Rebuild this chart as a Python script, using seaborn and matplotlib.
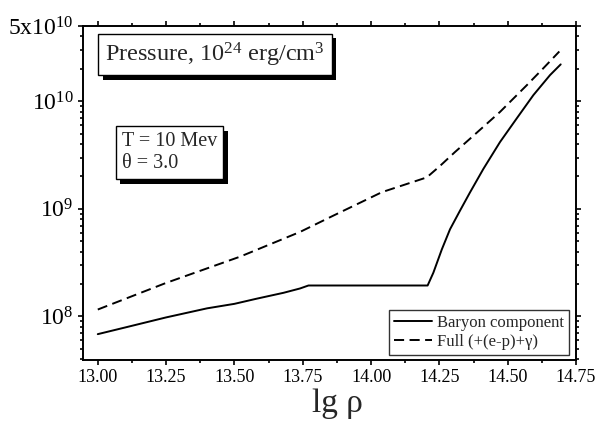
import numpy as np
import pandas as pd
import matplotlib
matplotlib.use("Agg")
import matplotlib.pyplot as plt
import matplotlib.patheffects as pe
from matplotlib.ticker import FixedLocator, NullFormatter, LogLocator
from matplotlib.lines import Line2D
import seaborn as sns

# baryon component (lg rho, pressure in 1e24 erg/cm^3)
baryon_x = [13.00, 13.10, 13.25, 13.40, 13.50, 13.58, 13.68, 13.74, 13.771,
            14.00, 14.207, 14.228, 14.259, 14.289, 14.325, 14.362, 14.411,
            14.472, 14.533, 14.594, 14.655, 14.694]
baryon_y = [6.85e7, 7.9e7, 9.8e7, 1.19e8, 1.31e8, 1.46e8, 1.66e8, 1.82e8, 1.94e8,
            1.94e8, 1.94e8, 2.55e8, 4.2e8, 6.46e8, 9.57e8, 1.42e9, 2.35e9,
            4.18e9, 6.92e9, 1.14e10, 1.75e10, 2.2e10]

# full pressure (+(e-p)+gamma)
full_x = [13.00, 13.25, 13.52, 13.74, 13.86, 14.04, 14.204, 14.252, 14.307,
          14.362, 14.417, 14.472, 14.521, 14.570, 14.630, 14.689]
full_y = [1.16e8, 2.05e8, 3.59e8, 6.1e8, 8.6e8, 1.43e9, 1.96e9, 2.5e9, 3.37e9,
          4.48e9, 5.97e9, 7.96e9, 1.06e10, 1.41e10, 2.02e10, 2.9e10]

series_names = ["Baryon component", "Full (+(e-p)+\u03b3)"]

df = pd.concat([
    pd.DataFrame({"lg_rho": baryon_x, "P": baryon_y, "series": series_names[0]}),
    pd.DataFrame({"lg_rho": full_x, "P": full_y, "series": series_names[1]}),
])

sns.set_style("ticks")
plt.rcParams.update({
    "font.family": ["Liberation Serif", "DejaVu Serif"],
    "mathtext.fontset": "custom",
    "mathtext.rm": "Liberation Serif",
    "mathtext.it": "Liberation Serif:italic",
    "axes.linewidth": 1.4,
    "axes.edgecolor": "black",
    "xtick.color": "black",
    "ytick.color": "black",
})

DASH = (5.2, 2.8)

fig = plt.figure(figsize=(5.99, 4.21), dpi=100)
ax = fig.add_axes([0.1386, 0.1449, 0.823, 0.7933])

sns.lineplot(data=df, x="lg_rho", y="P", style="series", color="black",
             dashes={series_names[0]: "", series_names[1]: DASH},
             linewidth=1.4, legend=False, sort=False, ax=ax)

ax.set_yscale("log")
ax.set_xlim(12.946, 14.75)
ax.set_ylim(3.94e7, 5e10)

xt = np.arange(13.0, 14.76, 0.25)
ax.set_xticks(xt)
ax.set_xticklabels([f"{v:.2f}" for v in xt])
ax.xaxis.set_minor_locator(FixedLocator(np.arange(13.125, 14.75, 0.25)))

ax.yaxis.set_major_locator(FixedLocator([1e8, 1e9, 1e10, 5e10]))
ax.set_yticklabels([r"10$^{8}$", r"10$^{9}$", r"10$^{10}$", r"5x10$^{10}$"])
ax.yaxis.set_minor_locator(LogLocator(base=10, subs=np.arange(2, 10)))
ax.yaxis.set_minor_formatter(NullFormatter())

ax.tick_params(which="both", direction="out", top=True, right=True,
               width=1.2, labelsize=13, pad=3)
ax.tick_params(which="major", length=3.8)
ax.tick_params(which="minor", length=2.3)
ax.tick_params(axis="y", labelsize=17, pad=3)
for s in ax.spines.values():
    s.set_visible(True)

ax.set_xlabel("lg \u03c1", fontsize=24)
ax.xaxis.set_label_coords(0.516, -0.085)
ax.set_ylabel("")

shadow = [pe.withSimplePatchShadow(offset=(3, -3.5), shadow_rgbFace="black", alpha=1.0)]
t1 = ax.text(0.045, 0.957, r"Pressure, 10$^{24}$ erg/cm$^{3}$", transform=ax.transAxes,
             fontsize=17.5, ha="left", va="top",
             bbox=dict(boxstyle="square,pad=0.28", fc="white", ec="black", lw=1))
t1.get_bbox_patch().set_path_effects(shadow)
t2 = ax.text(0.079, 0.683, "T = 10 Mev\n\u03b8 = 3.0", transform=ax.transAxes,
             fontsize=14.5, ha="left", va="top", linespacing=1.2,
             bbox=dict(boxstyle="square,pad=0.3", fc="white", ec="black", lw=1))
t2.get_bbox_patch().set_path_effects(shadow)

handles = [Line2D([], [], color="black", lw=1.4),
           Line2D([], [], color="black", lw=1.4, dashes=DASH)]
leg = ax.legend(handles, series_names, loc="lower right",
                bbox_to_anchor=(0.9858, 0.015), borderaxespad=0, fontsize=12,
                frameon=True, fancybox=False, edgecolor="black",
                handlelength=2.3, handletextpad=0.3,
                borderpad=0.3, labelspacing=0.2)
leg.get_frame().set_linewidth(1.0)

fig.savefig("out.png", dpi=100)
